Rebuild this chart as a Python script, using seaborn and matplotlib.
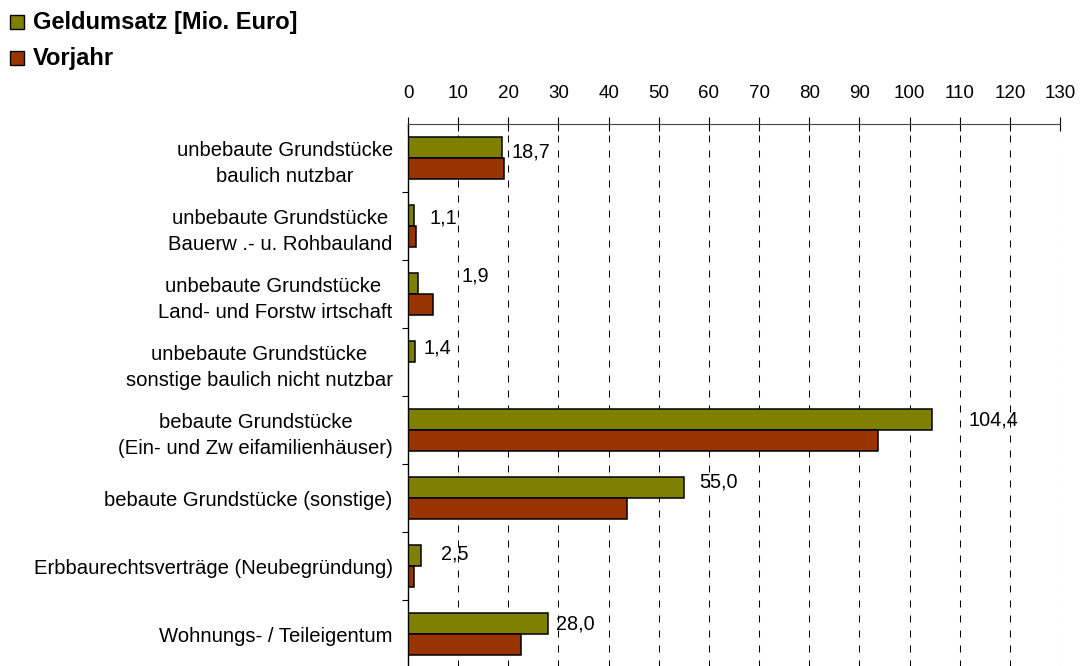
import numpy as np
import pandas as pd
import matplotlib
matplotlib.use("Agg")
import matplotlib.pyplot as plt
from matplotlib.patches import Rectangle
import seaborn as sns

# ---------------- data ----------------
categories = [
    "unbebaute Grundstücke\nbaulich nutzbar",
    "unbebaute Grundstücke\nBauerw .- u. Rohbauland",
    "unbebaute Grundstücke \nLand- und Forstw irtschaft",
    "unbebaute Grundstücke\nsonstige baulich nicht nutzbar",
    "bebaute Grundstücke\n(Ein- und Zw eifamilienhäuser)",
    "bebaute Grundstücke (sonstige)",
    "Erbbaurechtsverträge (Neubegründung)",
    "Wohnungs- / Teileigentum",
]
geldumsatz = [18.7, 1.1, 1.9, 1.4, 104.4, 55.0, 2.5, 28.0]
vorjahr = [19.2, 1.6, 5.0, np.nan, 93.8, 43.7, 1.2, 22.5]
series_names = ["Geldumsatz [Mio. Euro]", "Vorjahr"]
x_ticks = list(range(0, 131, 10))

# ---------------- style ----------------
OLIVE = "#808000"
RUST = "#993300"
label_dx_px = [10, 15.5, 44, 8, 37, 15, 20.5, 8]
label_dy_px = [1, 3, 12, 8, 4, 11, 6, 5]

sns.set_theme(style="white")
plt.rcParams["font.family"] = ["Liberation Sans", "DejaVu Sans"]

df = pd.DataFrame({
    "cat": categories * 2,
    "series": [series_names[0]] * len(categories) + [series_names[1]] * len(categories),
    "value": geldumsatz + vorjahr,
})

W, H = 1082, 666
fig = plt.figure(figsize=(W / 100, H / 100), dpi=100)
ax_top, ax_bot = 124, 668
ax = fig.add_axes([408 / W, (H - ax_bot) / H, (1060 - 408) / W, (ax_bot - ax_top) / H])

sns.barplot(data=df, y="cat", x="value", hue="series", orient="h",
            palette=[OLIVE, RUST], width=0.62, saturation=1,
            edgecolor="black", linewidth=1.1, ax=ax, legend=False,
            errorbar=None)

ax.set_xlim(0, 130)
ax.set_ylim(len(categories) - 0.5, -0.5)
ax.set_xlabel("")
ax.set_ylabel("")

ax.xaxis.tick_top()
ax.set_xticks(x_ticks)
ax.set_xticklabels([str(t) for t in x_ticks])
ax.tick_params(axis="x", which="major", direction="inout", length=10,
               width=0.8, color="black", pad=10.7, labelsize=13.5, labelcolor="black")

ax.set_yticks(range(len(categories)))
ax.set_yticklabels(categories)
ax.tick_params(axis="y", which="major", length=0, pad=11, labelsize=14.6, labelcolor="black")
ax.set_yticks(np.arange(0.5, len(categories) - 0.5, 1), minor=True)
ax.tick_params(axis="y", which="minor", direction="out", length=4.5, width=0.8,
               color="black", left=True)
for lbl in ax.get_yticklabels():
    lbl.set_multialignment("center")
    lbl.set_linespacing(1.45)

ax.set_axisbelow(True)
ax.grid(False)
ax.grid(axis="x", which="major", color="black", linestyle=(0, (6.7, 7.7)), linewidth=0.75)

for side in ["right", "bottom"]:
    ax.spines[side].set_visible(False)
ax.spines["left"].set_color("black")
ax.spines["left"].set_linewidth(1.0)
ax.spines["top"].set_color("#444444")
ax.spines["top"].set_linewidth(0.8)

# data labels (German decimal comma)
for i, v in enumerate(geldumsatz):
    ax.annotate(f"{v:.1f}".replace(".", ","), xy=(v, i),
                xytext=(label_dx_px[i] * 0.72, label_dy_px[i] * 0.72),
                textcoords="offset points", ha="left", va="baseline",
                fontsize=14.3, color="black")

# legend, top-left
leg_colors = [OLIVE, RUST]
leg_baselines = [29, 65]
for name, col, base in zip(series_names, leg_colors, leg_baselines):
    fig.patches.append(Rectangle((10 / W, (H - base) / H), 14 / W, 14 / H,
                                 transform=fig.transFigure, facecolor=col,
                                 edgecolor="black", linewidth=1.0))
    fig.text(33 / W, (H - base) / H, name, fontsize=17, fontweight="bold",
             va="baseline", ha="left", color="black")

fig.savefig("out.png", dpi=100)
